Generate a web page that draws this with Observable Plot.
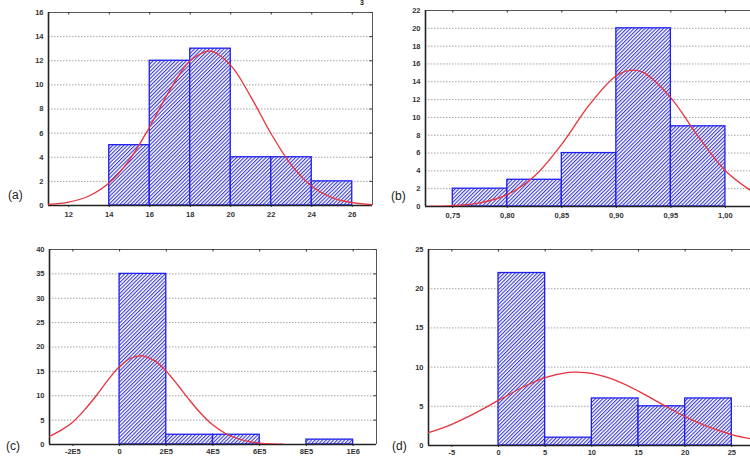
<!DOCTYPE html>
<html>
<head>
<meta charset="utf-8">
<script src="https://cdn.jsdelivr.net/npm/d3@7"></script>
<script src="https://cdn.jsdelivr.net/npm/@observablehq/plot@0.6"></script>
<style>
  html, body { margin: 0; padding: 0; background: #fff; overflow: hidden; }
  #root { position: relative; width: 750px; height: 457px; }
  .panel { position: absolute; }
  .lab { position: absolute; font-family: "Liberation Sans", Arial, sans-serif; font-size: 12px; color: #222; }
</style>
</head>
<body>
<svg width="0" height="0" style="position:absolute">
  <defs>
    <pattern id="hatch" patternUnits="userSpaceOnUse" width="2.6" height="2.6" patternTransform="rotate(45)">
      <rect width="2.6" height="2.6" fill="#ffffff"></rect>
      <rect width="1.1" height="2.6" fill="#3a3ad4"></rect>
    </pattern>
  </defs>
</svg>
<div id="root"></div>
<script>
// ---------- Panel (a) ----------
const aEdges = [14, 16, 18, 20, 22, 24, 26];
const aCounts = [5, 12, 13, 4, 4, 2];
const aCurveX = [11, 12, 13, 14, 15, 16, 17, 18, 19, 20, 21, 22, 23, 24, 25, 26, 27];
const aCurveY = [0.09, 0.28, 0.79, 1.88, 3.79, 6.53, 9.59, 11.99, 12.79, 11.62, 8.99, 5.93, 3.34, 1.60, 0.65, 0.23, 0.07];
const aXTicks = [12, 14, 16, 18, 20, 22, 24, 26];
const aYTicks = [0, 2, 4, 6, 8, 10, 12, 14, 16];

// ---------- Panel (b) ----------
const bEdges = [0.75, 0.80, 0.85, 0.90, 0.95, 1.00];
const bCounts = [2, 3, 6, 20, 9];
const bCurveX = [0.725, 0.75, 0.775, 0.80, 0.825, 0.85, 0.875, 0.90, 0.915, 0.925, 0.95, 0.975, 1.00, 1.025];
const bCurveY = [0.02, 0.10, 0.41, 1.33, 3.42, 7.0, 11.38, 14.68, 15.3, 15.02, 12.2, 7.86, 4.02, 1.63];
const bXTicks = [0.75, 0.80, 0.85, 0.90, 0.95, 1.00];
const bYTicks = [0, 2, 4, 6, 8, 10, 12, 14, 16, 18, 20, 22];

// ---------- Panel (c) ----------
const cEdges = [0, 2e5, 4e5, 6e5, 8e5, 1e6];
const cCounts = [35, 2, 2, 0, 1];
const cCurveX = [-3e5, -2.5e5, -2e5, -1.5e5, -1e5, -0.5e5, 0, 0.5e5, 0.9e5, 1e5, 1.5e5, 2e5, 2.5e5, 3e5, 3.5e5, 4e5, 4.5e5, 5e5, 5.5e5, 6e5, 6.5e5, 7e5];
const cCurveY = [1.65, 2.94, 4.6, 7.1, 10.0, 13.2, 16.0, 17.75, 18.2, 18.17, 17.2, 15.04, 12.15, 9.07, 6.26, 3.99, 2.36, 1.28, 0.65, 0.30, 0.13, 0.05];
const cXTicks = [-2e5, 0, 2e5, 4e5, 6e5, 8e5, 1e6];
const cXLabels = ["-2E5", "0", "2E5", "4E5", "6E5", "8E5", "1E6"];
const cYTicks = [0, 5, 10, 15, 20, 25, 30, 35, 40];

// ---------- Panel (d) ----------
const dEdges = [0, 5, 10, 15, 20, 25];
const dCounts = [22, 1, 6, 5, 6];
const dCurveX = [-7.5, -5, -2.5, 0, 2.5, 5, 7.5, 8.4, 10, 12.5, 15, 17.5, 20, 22.5, 25, 27.5];
const dCurveY = [1.63, 2.70, 4.12, 5.75, 7.37, 8.65, 9.32, 9.37, 9.21, 8.34, 6.93, 5.28, 3.69, 2.37, 1.39, 0.75];
const dXTicks = [-5, 0, 5, 10, 15, 20, 25];
const dYTicks = [0, 5, 10, 15, 20, 25];

const panelLabels = ["(a)", "(b)", "(c)", "(d)"];

function makePanel(cfg) {
  const bars = cfg.counts.map((c, i) => ({x1: cfg.edges[i], x2: cfg.edges[i + 1], y: c}));
  const curve = cfg.curveX.map((x, i) => ({x, y: cfg.curveY[i]}));
  const yMax = cfg.yTicks[cfg.yTicks.length - 1];
  const frameW = cfg.width - cfg.ml - cfg.mr;
  const frameH = cfg.height - cfg.mt - cfg.mb;
  const grid = cfg.yTicks.filter(v => v !== 0 && v !== yMax);
  const marks = [
    Plot.ruleY(grid, {y: d => d, stroke: "#9a9a9a", strokeWidth: 0.9, strokeDasharray: "1.5,1.5"}),
    Plot.rectY(bars, {x1: "x1", x2: "x2", y: "y", fill: "url(#hatch)", stroke: "#1f1ff0", strokeWidth: 1.3, inset: 0}),
    Plot.ruleY([yMax], {stroke: "#555", strokeWidth: 1}),
    Plot.tickX(cfg.xTicks, {x: d => d, stroke: "#333", strokeWidth: 1, insetBottom: frameH - 2.5}),
    Plot.ruleX([cfg.xDomain[0]], {stroke: "#222", strokeWidth: 1.6}),
    Plot.ruleY([0], {stroke: "#222", strokeWidth: 1.6})
  ];
  if (cfg.rightBorder) {
    marks.push(Plot.ruleX([cfg.xDomain[1]], {stroke: "#555", strokeWidth: 1}));
    marks.push(Plot.tickY(cfg.yTicks, {y: d => d, stroke: "#333", strokeWidth: 1, insetLeft: frameW - 2.5}));
  }
  marks.push(Plot.line(curve, {x: "x", y: "y", stroke: "#e8323c", strokeWidth: 1.3, curve: "catmull-rom", clip: true}));
  return Plot.plot({
    width: cfg.width,
    height: cfg.height,
    marginLeft: cfg.ml,
    marginRight: cfg.mr,
    marginTop: cfg.mt,
    marginBottom: cfg.mb,
    style: {background: "transparent", fontFamily: "'Liberation Sans', Arial, sans-serif", fontSize: "7.5px", fontWeight: "bold", color: "#333", overflow: "visible"},
    x: {domain: cfg.xDomain, ticks: cfg.xTicks, tickFormat: cfg.xFormat, tickSize: 2, tickPadding: cfg.xPad, label: null},
    y: {domain: [0, yMax], ticks: cfg.yTicks, tickSize: 0, tickPadding: 5, label: null},
    marks
  });
}

const root = document.getElementById("root");
const panels = [
  {left: 0, top: 0, width: 375, height: 225, ml: 48, mr: 3, mt: 12, mb: 20, xPad: 4,
   edges: aEdges, counts: aCounts, curveX: aCurveX, curveY: aCurveY,
   xDomain: [11, 27], xTicks: aXTicks, yTicks: aYTicks, xFormat: d => String(d), rightBorder: true,
   labLeft: 8, labTop: 188},
  {left: 375, top: 0, width: 375, height: 225, ml: 50, mr: 0, mt: 10, mb: 19, xPad: 4,
   edges: bEdges, counts: bCounts, curveX: bCurveX, curveY: bCurveY,
   xDomain: [0.725, 1.023], xTicks: bXTicks, yTicks: bYTicks, xFormat: d => d.toFixed(2).replace(".", ","), rightBorder: false,
   labLeft: 391, labTop: 189},
  {left: 0, top: 225, width: 378, height: 232, ml: 49, mr: 2, mt: 24, mb: 13, xPad: 2,
   edges: cEdges, counts: cCounts, curveX: cCurveX, curveY: cCurveY,
   xDomain: [-3e5, 1.1e6], xTicks: cXTicks, yTicks: cYTicks, xFormat: d => cXLabels[cXTicks.indexOf(d)], rightBorder: true,
   labLeft: 6, labTop: 439},
  {left: 375, top: 225, width: 375, height: 232, ml: 53, mr: 0, mt: 24, mb: 12, xPad: 2,
   edges: dEdges, counts: dCounts, curveX: dCurveX, curveY: dCurveY,
   xDomain: [-7.5, 27], xTicks: dXTicks, yTicks: dYTicks, xFormat: d => String(d), rightBorder: false,
   labLeft: 392, labTop: 439}
];

panels.forEach((cfg, i) => {
  const svg = makePanel(cfg);
  const wrap = document.createElement("div");
  wrap.className = "panel";
  wrap.style.left = cfg.left + "px";
  wrap.style.top = cfg.top + "px";
  wrap.appendChild(svg);
  root.appendChild(wrap);
  const lab = document.createElement("div");
  lab.className = "lab";
  lab.style.left = cfg.labLeft + "px";
  lab.style.top = cfg.labTop + "px";
  lab.textContent = panelLabels[i];
  root.appendChild(lab);
});

// small title glyph at the very top
const t = document.createElement("div");
t.className = "lab";
t.style.left = "360px";
t.style.top = "-1px";
t.style.fontWeight = "bold";
t.style.fontSize = "7px";
t.style.lineHeight = "8px";
t.textContent = "3";
root.appendChild(t);
</script>
</body>
</html>
